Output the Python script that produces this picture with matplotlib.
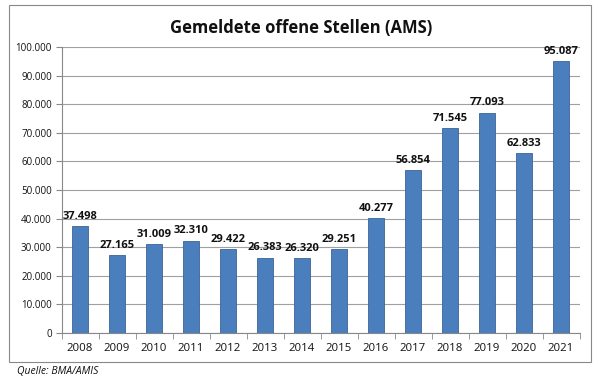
import matplotlib
matplotlib.use("Agg")
import matplotlib.pyplot as plt
from matplotlib.patches import Rectangle
from matplotlib.ticker import FuncFormatter, MultipleLocator

years = ["2008", "2009", "2010", "2011", "2012", "2013", "2014",
         "2015", "2016", "2017", "2018", "2019", "2020", "2021"]
values = [37498, 27165, 31009, 32310, 29422, 26383, 26320,
          29251, 40277, 56854, 71545, 77093, 62833, 95087]
title = "Gemeldete offene Stellen (AMS)"
source = "Quelle: BMA/AMIS"

plt.rcParams['font.family'] = ['Open Sans', 'DejaVu Sans']

W, H = 605, 386
fig = plt.figure(figsize=(W / 100, H / 100), dpi=100)
ax = fig.add_axes([61.5 / W, 1 - 333 / H, (579.5 - 61.5) / W, (333 - 47) / H])

x = list(range(len(years)))
ax.bar(x, values, width=0.41, color="#4A7EBD", edgecolor="#3A6496", linewidth=0.6, zorder=3)

for xi, v in zip(x, values):
    ax.annotate(f"{v:,}".replace(",", "."), (xi, v), xytext=(0, 3),
                textcoords="offset points", ha="center", va="bottom",
                fontsize=8, fontweight="bold", color="#111111")

ax.set_xlim(-0.5, len(years) - 0.5)
ax.set_ylim(0, 100000)
ax.yaxis.set_major_locator(MultipleLocator(10000))
ax.yaxis.set_major_formatter(FuncFormatter(lambda v, p: f"{int(v):,}".replace(",", ".")))
ax.set_xticks(x)
ax.set_xticklabels(years)
ax.set_xticks([i - 0.5 for i in range(len(years) + 1)], minor=True)
ax.tick_params(axis="x", which="major", length=0, pad=7, labelsize=8.2, colors="#111111")
ax.tick_params(axis="x", which="minor", length=4, color="#888888", direction="out")
ax.tick_params(axis="y", length=4, color="#888888", labelsize=7, pad=3, labelcolor="#111111")

ax.grid(axis="y", color="#A0A0A0", linewidth=0.8, zorder=0)
for s in ["top", "right"]:
    ax.spines[s].set_visible(False)
for s in ["left", "bottom"]:
    ax.spines[s].set_color("#888888")
    ax.spines[s].set_linewidth(0.8)

fig.text(301 / W, 1 - 28 / H, title, ha="center", va="center",
         fontsize=12, fontweight="bold", color="#111111")
fig.text(17 / W, 1 - 372 / H, source, ha="left", va="center",
         fontsize=7.5, style="italic", color="#111111")

fig.patches.append(Rectangle((9 / W, 1 - 362 / H), (591 - 9) / W, (362 - 5) / H,
                             transform=fig.transFigure, fill=False,
                             edgecolor="#888888", linewidth=0.8))

fig.savefig("out.png", dpi=100, facecolor="white")
